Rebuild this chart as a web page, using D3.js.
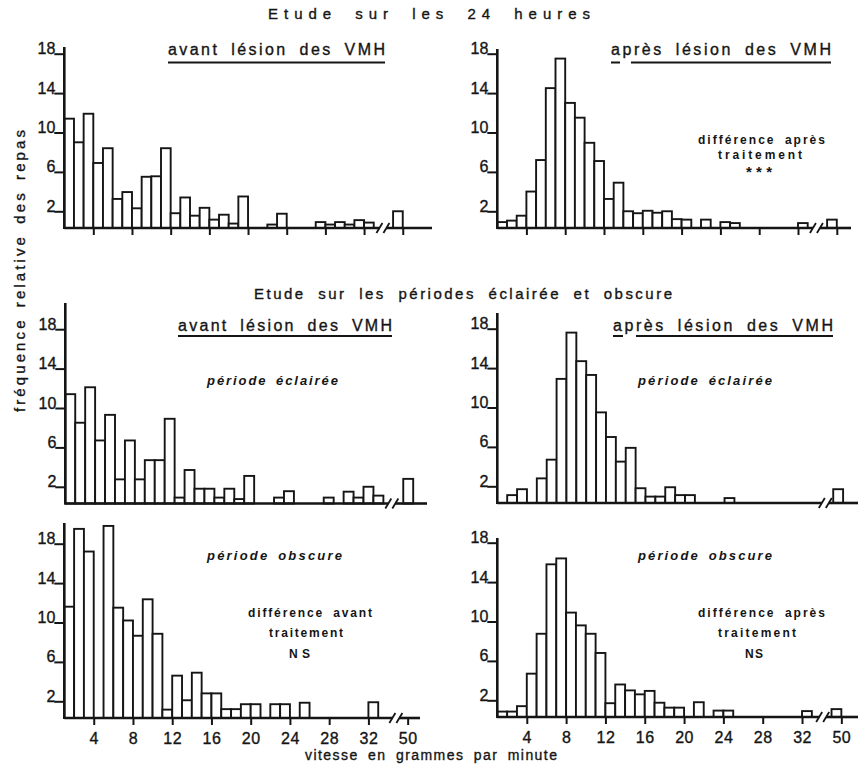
<!DOCTYPE html>
<html>
<head>
<meta charset="utf-8">
<script src="https://cdn.jsdelivr.net/npm/d3@7"></script>
<style>
  body { margin: 0; background: #fff; }
  text { font-family: "Liberation Sans", "DejaVu Sans", sans-serif; fill: #151515; stroke: #151515; stroke-width: 0.35px; }
</style>
</head>
<body>
<svg id="chart" width="859" height="764"></svg>
<script>
// classes of 1 g/min, the last one sits after the axis break
var binStarts = [1,2,3,4,5,6,7,8,9,10,11,12,13,14,15,16,17,18,19,20,21,22,23,24,25,26,27,28,29,30,31,32,49];
var yTicks = [2, 6, 10, 14, 18];
var xTicks = [4, 8, 12, 16, 20, 24, 28, 32, 50];

// fréquence relative des repas (%)
var avant24 = [11.1, 8.7, 11.6, 6.6, 8.1, 2.95, 3.65, 2.0, 5.2, 5.25, 8.1, 1.5, 3.1, 1.25, 2.05, 0.85, 1.35, 0.45, 3.2, 0, 0, 0.35, 1.45, 0, 0, 0, 0.6, 0.35, 0.6, 0.35, 0.8, 0.55, 1.7];
var apres24 = [0.6, 0.75, 1.25, 3.7, 6.9, 14.2, 17.2, 12.7, 11.2, 8.65, 6.8, 2.95, 4.6, 1.7, 1.5, 1.75, 1.55, 1.7, 0.9, 0.85, 0, 0.85, 0, 0.6, 0.5, 0, 0, 0, 0, 0, 0, 0.5, 0.85];
var avantEclairee = [11.1, 8.2, 11.8, 6.4, 9.0, 2.45, 6.4, 2.45, 4.4, 4.4, 8.6, 0.6, 3.4, 1.5, 1.5, 0.6, 1.5, 0.45, 2.8, 0, 0, 0.6, 1.25, 0, 0, 0, 0.6, 0, 1.2, 0.6, 1.7, 0.8, 2.5];
var apresEclairee = [0, 0.8, 1.4, 0, 2.5, 4.4, 12.6, 17.3, 14.4, 13.0, 9.2, 6.7, 4.2, 5.6, 1.5, 0.65, 0.65, 1.6, 0.8, 0.8, 0, 0, 0, 0.5, 0, 0, 0, 0, 0, 0, 0, 0, 1.4];
var avantObscure = [11.3, 19.2, 16.9, 0, 19.5, 11.2, 9.9, 8.35, 12.05, 8.55, 0.85, 4.3, 1.8, 4.6, 2.5, 2.5, 0.9, 0.9, 1.4, 1.4, 0, 1.4, 1.4, 0, 1.55, 0, 0, 0, 0, 0, 0, 1.6, 0];
var apresObscure = [0.55, 0.55, 1.1, 4.4, 8.45, 15.5, 16.1, 10.6, 9.3, 8.45, 6.5, 1.4, 3.3, 2.7, 2.3, 2.65, 1.45, 0.95, 0.95, 0, 1.5, 0, 0.65, 0.65, 0, 0, 0, 0, 0, 0, 0, 0.6, 0.8];

var svg = d3.select("#chart");

// where each histogram sits on the page
var panels = [
  { data: avant24,       x0: 64.3,  u: 9.67, base: 228,   top: 47,  xEnd: 432, brk: 33.95, xaxis: "ticks" },
  { data: apres24,       x0: 497.3, u: 9.70, base: 228,   top: 49,  xEnd: 851, brk: 33.9,  xaxis: "ticks" },
  { data: avantEclairee, x0: 65.3,  u: 9.94, base: 503.5, top: 303, xEnd: 427, brk: 33.85, xaxis: "none" },
  { data: apresEclairee, x0: 497.3, u: 9.88, base: 503,   top: 313, xEnd: 858, brk: 34.2,  xaxis: "none" },
  { data: avantObscure,  x0: 64.3,  u: 9.81, base: 718,   top: 523, xEnd: 420, brk: 34.8,  xaxis: "labels" },
  { data: apresObscure,  x0: 497.3, u: 9.83, base: 717,   top: 538, xEnd: 858, brk: 34.1,  xaxis: "labels" }
];

// axis is broken between 33 and 49: 49-50 is drawn where 35-36 would be
function pos(v) { return v > 40 ? v - 14 : v; }

panels.forEach(function(p) {
  var x = d3.scaleLinear().domain([1, 36]).range([p.x0, p.x0 + 35 * p.u]);
  var y = d3.scaleLinear().domain([0, 18]).range([p.base, p.base - 18 * 9.85]);
  var g = svg.append("g");

  var bins = binStarts.map(function(s, i) { return { s: s, v: p.data[i] }; })
    .filter(function(d) { return d.v > 0; });

  g.selectAll("rect.bar").data(bins).enter().append("rect")
    .attr("class", "bar")
    .attr("x", function(d) { return x(pos(d.s)); })
    .attr("width", function(d) { return x(pos(d.s) + 1) - x(pos(d.s)); })
    .attr("y", function(d) { return y(d.v); })
    .attr("height", function(d) { return p.base - y(d.v); })
    .attr("fill", "#fff")
    .attr("stroke", "#151515")
    .attr("stroke-width", 1.9);

  // y axis
  var ya = g.append("g").attr("transform", "translate(" + p.x0 + ",3)")
    .call(d3.axisLeft(y).tickValues(yTicks).tickSize(10).tickPadding(-1));
  ya.select(".domain").remove();
  ya.selectAll("line").attr("stroke", "#151515").attr("stroke-width", 2);
  ya.selectAll("text").attr("dy", "0").attr("fill", null)
    .style("font-size", "16px").style("font-family", "Liberation Sans");
  g.append("line").attr("x1", p.x0).attr("x2", p.x0).attr("y1", p.top).attr("y2", p.base + 1)
    .attr("stroke", "#151515").attr("stroke-width", 2.6);

  // x axis ticks / labels
  if (p.xaxis != "none") {
    var xa = g.append("g").attr("transform", "translate(0," + p.base + ")")
      .call(d3.axisBottom(x).tickValues(xTicks.map(pos)).tickSize(7).tickPadding(8)
        .tickFormat(function(d, i) { return p.xaxis == "labels" ? xTicks[i] : ""; }));
    xa.select(".domain").remove();
    xa.selectAll("line").attr("stroke", "#151515").attr("stroke-width", 2);
    xa.selectAll("text").attr("fill", null)
      .style("font-size", "16px").style("font-family", "Liberation Sans").attr("letter-spacing", "0.5px");
  }

  // baseline with the // break
  var bx = x(p.brk);
  g.append("line").attr("x1", p.x0).attr("x2", bx - 3.5).attr("y1", p.base).attr("y2", p.base)
    .attr("stroke", "#151515").attr("stroke-width", 2.6);
  g.append("line").attr("x1", bx + 3.5).attr("x2", p.xEnd).attr("y1", p.base).attr("y2", p.base)
    .attr("stroke", "#151515").attr("stroke-width", 2.6);
  [-3.5, 3.5].forEach(function(o) {
    g.append("line").attr("x1", bx + o - 3).attr("x2", bx + o + 3)
      .attr("y1", p.base + 5).attr("y2", p.base - 5)
      .attr("stroke", "#151515").attr("stroke-width", 1.8);
  });
});

// texts
function label(txt, x1, x2, yb, size, opts) {
  opts = opts || {};
  var t = svg.append("text").text(txt)
    .attr("x", x1).attr("y", yb)
    .attr("textLength", x2 - x1).attr("lengthAdjust", "spacing")
    .style("font-size", size + "px");
  if (opts.italic) t.style("font-style", "italic");
  if (opts.bold) t.style("font-weight", "bold").style("stroke-width", "0px");
  if (opts.ws) t.style("word-spacing", opts.ws + "px");
  return t;
}
function underline(x1, x2, yy) {
  svg.append("line").attr("x1", x1).attr("x2", x2).attr("y1", yy).attr("y2", yy)
    .attr("stroke", "#151515").attr("stroke-width", 2);
}

label("Etude sur les 24 heures", 268, 590, 19, 15, { ws: 8 });
label("Etude sur les périodes éclairée et obscure", 254, 672, 299, 15, { ws: 6 });

label("avant lésion des VMH", 168, 385, 55, 16, { ws: 5 });
underline(168, 385, 62.5);
label("après lésion des VMH", 611, 831, 55, 16, { ws: 5 });
underline(611, 620, 62.5); underline(631, 831, 62.5);
label("avant lésion des VMH", 178, 392, 331, 16, { ws: 5 });
underline(178, 392, 336);
label("après lésion des VMH", 613, 833, 331, 16, { ws: 5 });
underline(613, 623, 336); underline(636, 833, 336);

label("période éclairée", 207, 338, 385, 13, { italic: true, bold: true, ws: 3 });
label("période éclairée", 638, 772, 385, 13, { italic: true, bold: true, ws: 3 });
label("période obscure", 207, 342, 560, 13, { italic: true, bold: true, ws: 3 });
label("période obscure", 638, 772, 560, 13, { italic: true, bold: true, ws: 3 });

label("différence après", 698, 825, 144, 12, { bold: true, ws: 4 });
label("traitement", 718, 802, 159, 12, { bold: true });
label("***", 746, 772, 177, 15, { bold: true });

label("différence avant", 248, 372, 617, 12, { bold: true, ws: 4 });
label("traitement", 269, 343, 637, 12, { bold: true });
label("NS", 289, 310, 658, 12, { bold: true });

label("différence après", 698, 825, 617, 12, { bold: true, ws: 4 });
label("traitement", 718, 796, 637, 12, { bold: true });
label("NS", 745, 763, 658, 12, { bold: true });

label("vitesse en grammes par minute", 305, 557, 760, 14, { ws: 4 });

svg.append("text").text("fréquence relative des repas")
  .attr("transform", "translate(25,412) rotate(-90)")
  .attr("textLength", 282).attr("lengthAdjust", "spacing")
  .style("word-spacing", "3px")
  .style("font-size", "15px");
</script>
</body>
</html>
